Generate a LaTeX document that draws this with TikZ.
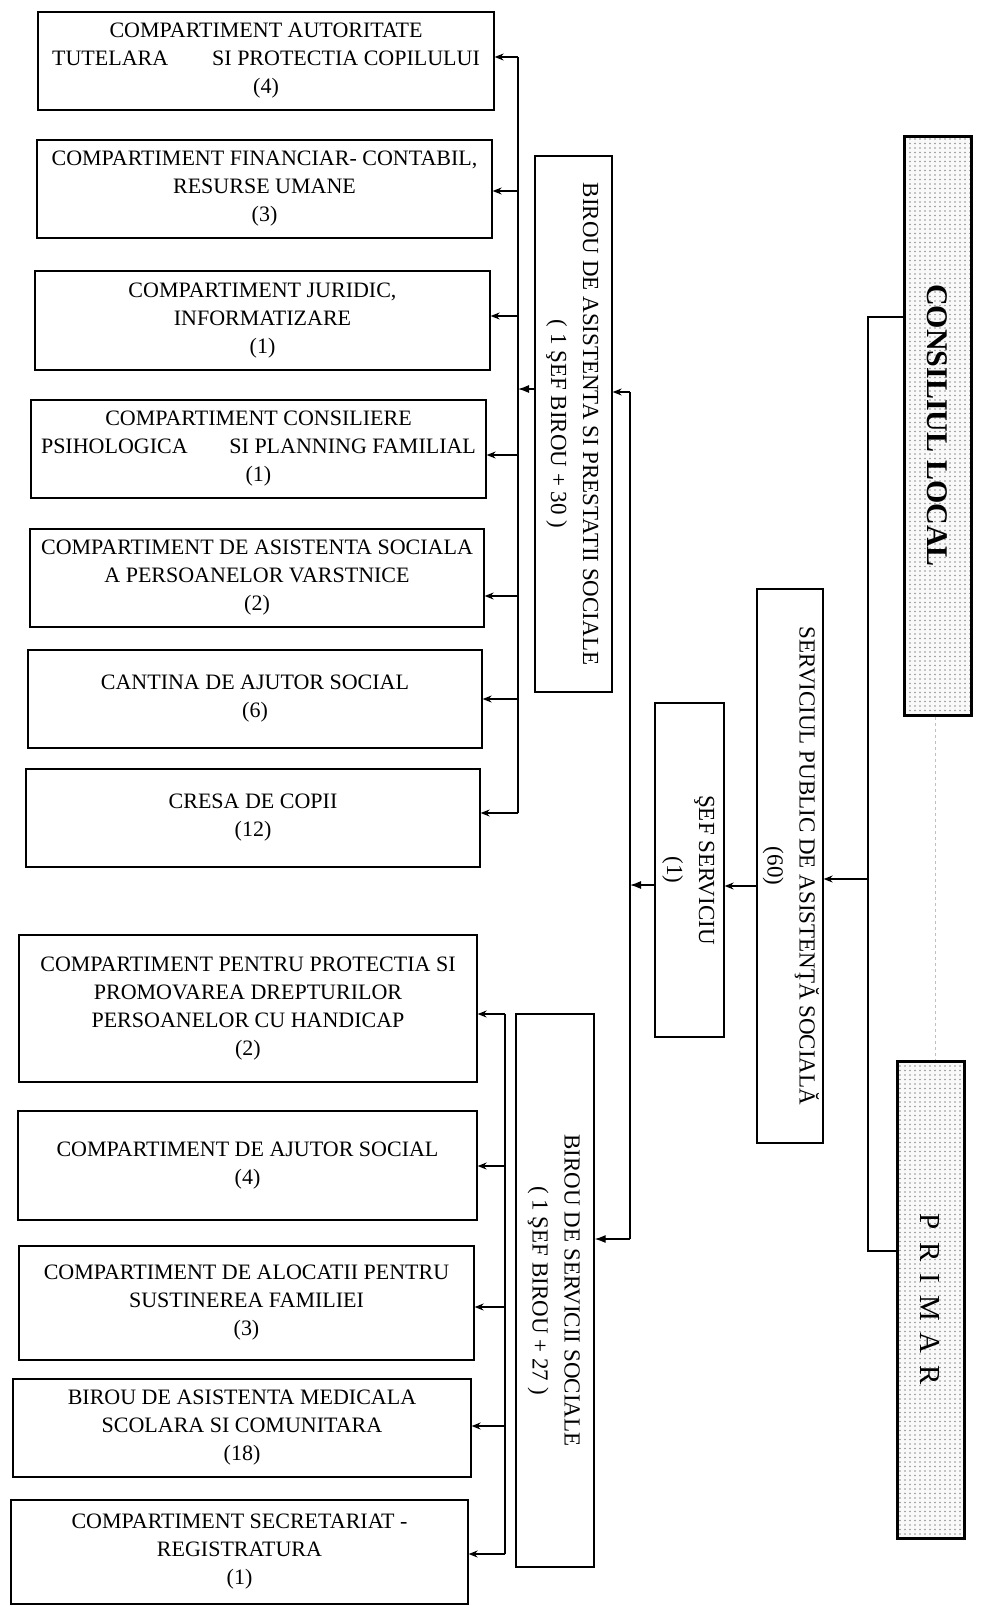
\documentclass[tikz,border=0pt]{standalone}
\usepackage{fontspec}
\setmainfont{Liberation Serif}
\usetikzlibrary{arrows.meta,patterns.meta}
\tikzdeclarepattern{
  name=finedots,
  type=uncolored,
  bounding box={(-1pt,-1pt) and (1pt,1pt)},
  tile size={(5pt,4.5pt)},
  code={\fill (0pt,0pt) circle (0.8pt);}
}
\newcommand{\rotlines}[1]{\rotatebox{-90}{\begin{tabular}{@{}c@{}}#1\end{tabular}}}
\tikzset{
  hbox/.style={draw, line width=1.3pt, align=center, inner sep=1pt,
    font=\fontsize{22}{28}\selectfont},
  vbox/.style={draw, line width=1.3pt, inner sep=0pt,
    font=\fontsize{23}{32}\selectfont},
  headbox/.style={draw=black, line width=3pt, inner sep=0pt,
    preaction={fill=gray!5}, pattern=finedots, pattern color=gray!85},
  link/.style={line width=1.2pt},
  arr/.style={link, -{Stealth[length=9pt,width=7pt]}},
  arrf/.style={link, -{Latex[length=11pt,width=8pt]}},
  greyline/.style={gray!50, line width=1pt, dashed}
}
\begin{document}
\begin{tikzpicture}[x=1pt,y=-1pt]
\path[use as bounding box, fill=white] (0,0) rectangle (983,1606);

% upper group
\node[hbox, minimum width=456pt, minimum height=98pt] (b1) at (266,61)
  {COMPARTIMENT AUTORITATE\\TUTELARA\hspace{2em}SI PROTECTIA COPILULUI\\(4)};
\node[hbox, minimum width=455pt, minimum height=98pt] (b2) at (264.5,189)
  {COMPARTIMENT FINANCIAR- CONTABIL,\\RESURSE UMANE\\(3)};
\node[hbox, minimum width=455pt, minimum height=99pt] (b3) at (262.5,320.5)
  {COMPARTIMENT JURIDIC,\\INFORMATIZARE\\(1)};
\node[hbox, minimum width=455pt, minimum height=98pt] (b4) at (258.5,449)
  {COMPARTIMENT CONSILIERE\\PSIHOLOGICA\hspace{1.9em}SI PLANNING FAMILIAL\\(1)};
\node[hbox, minimum width=454pt, minimum height=98pt] (b5) at (257,578)
  {COMPARTIMENT DE ASISTENTA SOCIALA\\A PERSOANELOR VARSTNICE\\(2)};
\node[hbox, minimum width=454pt, minimum height=98pt] (b6) at (255,699)
  {CANTINA DE AJUTOR SOCIAL\\(6)};
\node[hbox, minimum width=454pt, minimum height=98pt] (b7) at (253,818)
  {CRESA DE COPII\\(12)};

% lower group
\node[hbox, minimum width=458pt, minimum height=147pt] (b8) at (248,1008.5)
  {COMPARTIMENT PENTRU PROTECTIA SI\\PROMOVAREA DREPTURILOR\\PERSOANELOR CU HANDICAP\\(2)};
\node[hbox, minimum width=459pt, minimum height=109pt] (b9) at (247.5,1165.5)
  {COMPARTIMENT DE AJUTOR SOCIAL\\(4)};
\node[hbox, minimum width=455pt, minimum height=114pt] (b10) at (246.5,1303)
  {COMPARTIMENT DE ALOCATII PENTRU\\SUSTINEREA FAMILIEI\\(3)};
\node[hbox, minimum width=458pt, minimum height=98pt] (b11) at (242,1428)
  {BIROU DE ASISTENTA MEDICALA\\SCOLARA SI COMUNITARA\\(18)};
\node[hbox, minimum width=457pt, minimum height=104pt] (b12) at (239.5,1552)
  {COMPARTIMENT SECRETARIAT -\\REGISTRATURA\\(1)};

% vertical boxes
\node[vbox, minimum width=77pt, minimum height=536pt] (ba) at (573.5,424)
  {\rotlines{BIROU DE ASISTENTA SI PRESTATII SOCIALE\\( 1 ŞEF BIROU + 30 )}};
\node[vbox, minimum width=78pt, minimum height=553pt] (bs) at (555,1290.5)
  {\rotlines{BIROU DE SERVICII SOCIALE\\( 1 ŞEF BIROU + 27 )}};
\node[vbox, minimum width=69pt, minimum height=334pt] (sf) at (689.5,870)
  {\rotlines{ŞEF SERVICIU\\(1)}};
\node[vbox, minimum width=66pt, minimum height=554pt] (sp) at (790,866)
  {\rotlines{SERVICIUL PUBLIC DE ASISTENŢĂ SOCIALĂ\\(60)}};
\node[headbox, minimum width=67pt, minimum height=579pt,
  font=\fontsize{30}{36}\selectfont\bfseries] (cl) at (937.5,425.5)
  {\rotatebox{-90}{CONSILIUL LOCAL}};
\node[headbox, minimum width=67pt, minimum height=477pt,
  font=\fontsize{29}{34}\selectfont] (pr) at (930.5,1299.5)
  {\rotatebox{-90}{P\hspace{12pt}R\hspace{12pt}I\hspace{12pt}M\hspace{12pt}A\hspace{12pt}R}};

% grey link between the two heads
\coordinate (g1) at (935,0);
\draw[greyline] (cl.south -| g1) -- (pr.north -| g1);

% right spine
\coordinate (rt) at (868,317);
\coordinate (rb) at (868,1251);
\coordinate (r1) at (868,879);
\draw[link] (rt -| cl.west) -- (rt) -- (rb) -- (rb -| pr.west);
\draw[arr] (r1) -- (r1 -| sp.east);

% service chain
\coordinate (a2) at (757,886);
\draw[arr] (a2 -| sp.west) -- (a2 -| sf.east);

% main spine
\coordinate (mt) at (630,392);
\coordinate (mb) at (630,1239);
\coordinate (m1) at (630,885);
\draw[link] (mt) -- (mb);
\draw[arr] (mt) -- (mt -| ba.east);
\draw[arrf] (mb) -- (mb -| bs.east);
\draw[arrf] (m1 -| sf.west) -- (m1);

% upper bus
\coordinate (ut) at (518,57);
\coordinate (ub) at (518,813);
\draw[link] (ut) -- (ub);
\coordinate (u0) at (518,389);
\draw[arrf] (u0 -| ba.west) -- (u0);
\draw[arr] (ut) -- (ut -| b1.east);
\coordinate (u2) at (518,191); \draw[arr] (u2) -- (u2 -| b2.east);
\coordinate (u3) at (518,316); \draw[arr] (u3) -- (u3 -| b3.east);
\coordinate (u4) at (518,455); \draw[arr] (u4) -- (u4 -| b4.east);
\coordinate (u5) at (518,596); \draw[arr] (u5) -- (u5 -| b5.east);
\coordinate (u6) at (518,699); \draw[arr] (u6) -- (u6 -| b6.east);
\draw[arr] (ub) -- (ub -| b7.east);

% lower bus
\coordinate (lt) at (505,1014);
\coordinate (lb) at (505,1554);
\draw[link] (lt) -- (lb);
\draw[arr] (lt) -- (lt -| b8.east);
\coordinate (l2) at (505,1166); \draw[arr] (l2) -- (l2 -| b9.east);
\coordinate (l3) at (505,1307); \draw[arr] (l3) -- (l3 -| b10.east);
\coordinate (l4) at (505,1426); \draw[arr] (l4) -- (l4 -| b11.east);
\draw[arr] (lb) -- (lb -| b12.east);
\end{tikzpicture}
\end{document}
